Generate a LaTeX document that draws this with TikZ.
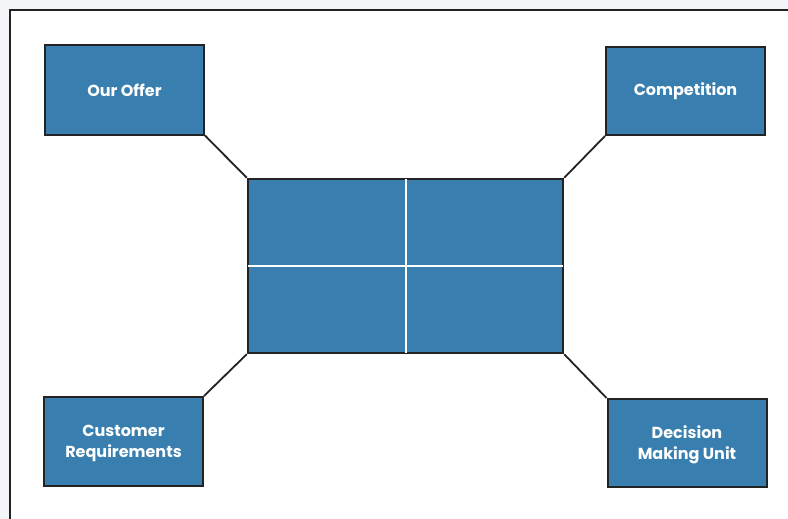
\documentclass[tikz,border=0pt]{standalone}
\usepackage{fontspec}
\setmainfont{Poppins}
\definecolor{boxblue}{RGB}{56,126,175}
\definecolor{edge}{RGB}{35,35,38}
\definecolor{bgside}{RGB}{244,245,248}
\newcommand{\twoline}[2]{\raisebox{-6pt}[0pt][0pt]{\begin{tabular}{@{}c@{}}#1\\#2\end{tabular}}}
\begin{document}
\begin{tikzpicture}[x=1pt,y=-1pt,
  blbox/.style={draw=edge,line width=2pt,fill=boxblue,text=white,
    font=\fontsize{16}{21}\selectfont\bfseries,align=center,inner sep=0pt},
  link/.style={draw=edge,line width=1.8pt},
  divider/.style={draw=white,line width=2pt}]
\useasboundingbox (0,0) rectangle (788,519);
\fill[bgside] (0,0) rectangle (788,519);
\fill[white,draw=edge,line width=1.2pt] (10,10) rectangle (800,530);
% outer boxes
\node[blbox,minimum width=159pt,minimum height=89pt] (offer) at (124.5,90) {Our Offer};
\node[blbox,minimum width=159pt,minimum height=88pt] (comp) at (685.5,91) {Competition};
\node[blbox,minimum width=159pt,minimum height=89pt] (cust) at (123.5,441.5) {\twoline{Customer}{Requirements}};
\node[blbox,minimum width=159pt,minimum height=88pt] (dmu) at (687,443) {\twoline{Decision}{Making Unit}};
% centre box
\node[draw=edge,line width=2pt,fill=boxblue,minimum width=315.5pt,minimum height=174.5pt,inner sep=0pt] (centre) at (405.5,266) {};
\draw[divider] ([yshift=-1.2pt]centre.north) -- ([yshift=1.2pt]centre.south);
\draw[divider] ([xshift=1.2pt]centre.west) -- ([xshift=-1.2pt]centre.east);
% connectors
\draw[link] (offer.south east) -- (centre.north west);
\draw[link] (comp.south west) -- (centre.north east);
\draw[link] (cust.north east) -- (centre.south west);
\draw[link] (dmu.north west) -- (centre.south east);
\end{tikzpicture}
\end{document}
